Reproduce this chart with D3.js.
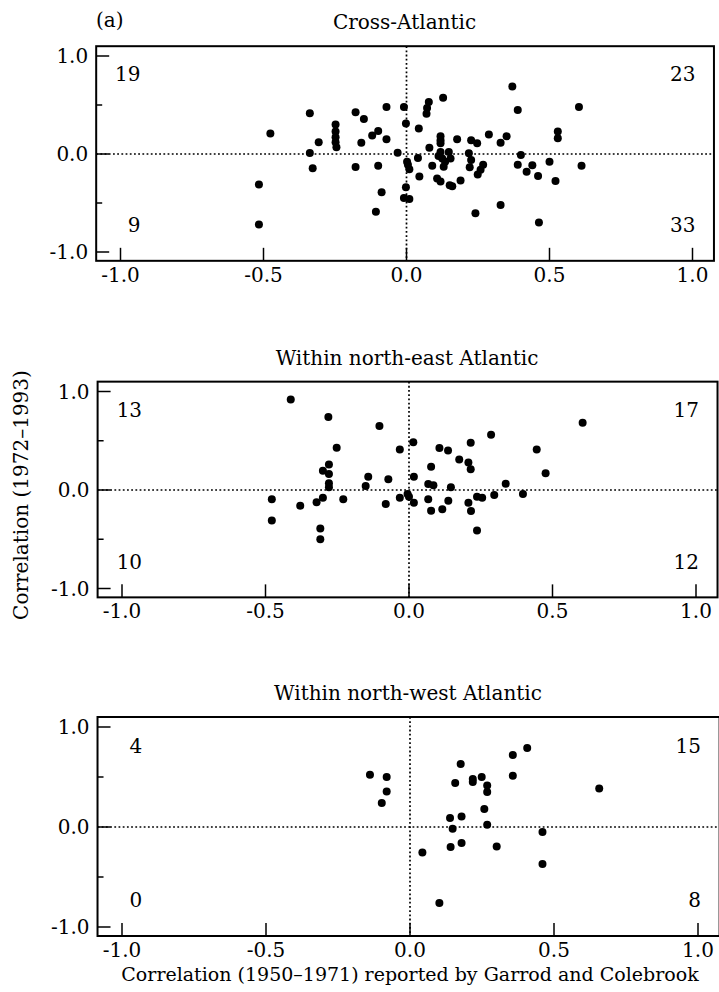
<!DOCTYPE html>
<html>
<head>
<meta charset="utf-8">
<script src="https://cdn.jsdelivr.net/npm/d3@7"></script>
<style>
  body { margin: 0; background: #fff; }
  svg { display: block; font-family: "DejaVu Serif", serif; }
</style>
</head>
<body>
<svg id="chart"></svg>
<script>
const panelTitles = ["Cross-Atlantic", "Within north-east Atlantic", "Within north-west Atlantic"];

// quadrant counts: [top-left, top-right, bottom-left, bottom-right]
const quadrantCounts = [
    [19, 23, 9, 33],
    [13, 17, 10, 12],
    [4, 15, 0, 8]
];

const xTicks = [-1, -0.5, 0, 0.5, 1];
const xTickLabels = ["-1.0", "-0.5", "0.0", "0.5", "1.0"];
const yTicks = [-1, 0, 1];
const yTickLabels = ["-1.0", "0.0", "1.0"];
const yMinorTicks = [-0.5, 0.5];

// [1950-1971 correlation, 1972-1993 correlation]
const crossAtlantic = [
    [-0.476, 0.21], [-0.516, -0.31], [-0.516, -0.72], [-0.338, 0.415], [-0.307, 0.12], [-0.338, 0.01],
    [-0.328, -0.146], [-0.248, 0.30], [-0.248, 0.23], [-0.248, 0.17], [-0.248, 0.12], [-0.245, 0.07],
    [-0.178, 0.425], [-0.149, 0.357], [-0.158, 0.115], [-0.178, -0.133], [-0.12, 0.19], [-0.099, 0.235],
    [-0.07, 0.48], [-0.07, 0.15], [-0.099, -0.12], [-0.087, -0.39], [-0.107, -0.59], [-0.031, 0.013],
    [-0.009, 0.48], [-0.002, 0.31], [0.002, -0.08], [0.01, -0.156], [-0.002, -0.34], [-0.009, -0.45],
    [0.01, -0.46], [0.043, 0.26], [0.04, -0.04], [0.045, -0.23], [0.078, 0.53], [0.072, 0.47],
    [0.07, 0.41], [0.128, 0.575], [0.119, 0.18], [0.119, 0.14], [0.119, 0.11], [0.08, 0.065],
    [0.09, -0.12], [0.119, 0.02], [0.125, -0.045], [0.13, -0.13], [0.148, 0.02], [0.154, -0.045],
    [0.107, -0.25], [0.119, -0.28], [0.151, -0.32], [0.16, -0.33], [0.189, -0.27], [0.177, 0.15],
    [0.226, 0.14], [0.247, 0.11], [0.218, 0.007], [0.226, -0.06], [0.221, -0.136], [0.268, -0.11],
    [0.259, -0.16], [0.249, -0.21], [0.288, 0.2], [0.329, 0.115], [0.35, 0.18], [0.37, 0.69],
    [0.389, 0.45], [0.40, -0.01], [0.389, -0.11], [0.42, -0.18], [0.44, -0.115], [0.46, -0.225],
    [0.5, -0.08], [0.529, 0.23], [0.529, 0.16], [0.521, -0.275], [0.603, 0.48], [0.612, -0.12],
    [0.241, -0.605], [0.329, -0.52], [0.463, -0.70], [0.135, -0.08], [0.112, -0.02], [0.005, -0.11]
];

const northEast = [
    [-0.412, 0.92], [-0.281, 0.74], [-0.103, 0.65], [-0.252, 0.43], [-0.032, 0.41], [0.015, 0.485],
    [-0.279, 0.26], [-0.30, 0.196], [-0.279, 0.163], [-0.279, 0.068], [-0.279, 0.027], [-0.142, 0.135],
    [-0.151, 0.04], [-0.072, 0.108], [-0.478, -0.095], [-0.478, -0.31], [-0.379, -0.16], [-0.322, -0.125],
    [-0.30, -0.078], [-0.229, -0.095], [-0.309, -0.39], [-0.309, -0.50], [-0.081, -0.142], [-0.032, -0.078],
    [-0.005, -0.04], [0.0, -0.068], [0.017, 0.135], [0.017, -0.129], [0.067, -0.095], [0.077, -0.21],
    [0.077, 0.237], [0.106, 0.427], [0.136, 0.40], [0.067, 0.061], [0.085, 0.048], [0.146, 0.027],
    [0.116, -0.196], [0.137, -0.109], [0.175, 0.31], [0.207, 0.28], [0.215, 0.21], [0.215, 0.48],
    [0.286, 0.56], [0.207, -0.129], [0.216, -0.213], [0.237, -0.068], [0.255, -0.078], [0.237, -0.41],
    [0.297, -0.051], [0.337, 0.064], [0.397, -0.04], [0.445, 0.41], [0.476, 0.17], [0.605, 0.683]
];

const northWest = [
    [-0.139, 0.523], [-0.081, 0.50], [-0.081, 0.356], [-0.098, 0.24], [0.176, 0.63], [0.357, 0.72],
    [0.407, 0.79], [0.249, 0.50], [0.218, 0.48], [0.218, 0.45], [0.157, 0.44], [0.268, 0.416],
    [0.268, 0.35], [0.357, 0.513], [0.258, 0.18], [0.657, 0.386], [0.139, 0.09], [0.179, 0.106],
    [0.148, -0.017], [0.268, 0.023], [0.46, -0.05], [0.043, -0.254], [0.141, -0.2], [0.179, -0.16],
    [0.301, -0.194], [0.46, -0.37], [0.102, -0.76]
];

const panelData = [crossAtlantic, northEast, northWest];

const width = 719, height = 992;
const fontSize = 20;

// pixel positions of -1 and +1 on each panel's axes
const panels = [
    { xr: [120.5, 692.5], yr: [252, 56] },
    { xr: [122, 696], yr: [588.5, 391.5] },
    { xr: [122, 698], yr: [927, 727] }
];

const frameX = [-1.085, 1.075];
const frameY = [-1.09, 1.1];

const svg = d3.select("#chart")
    .attr("width", width)
    .attr("height", height)
    .attr("viewBox", `0 0 ${width} ${height}`);

svg.append("rect").attr("width", width).attr("height", height).attr("fill", "#fff");

panels.forEach((p, i) => {
    const x = d3.scaleLinear().domain([-1, 1]).range(p.xr);
    const y = d3.scaleLinear().domain([-1, 1]).range(p.yr);
    const g = svg.append("g");

    const left = x(frameX[0]), right = x(frameX[1]);
    const top = y(frameY[1]), bottom = y(frameY[0]);

    // dotted zero lines
    g.append("line")
        .attr("x1", left).attr("x2", right)
        .attr("y1", y(0)).attr("y2", y(0))
        .attr("stroke", "#000").attr("stroke-width", 1.7)
        .attr("stroke-dasharray", "1.8,2.4");
    g.append("line")
        .attr("x1", x(0)).attr("x2", x(0))
        .attr("y1", top).attr("y2", bottom)
        .attr("stroke", "#000").attr("stroke-width", 1.7)
        .attr("stroke-dasharray", "1.8,2.4");

    g.append("rect")
        .attr("x", left).attr("y", top)
        .attr("width", right - left).attr("height", bottom - top)
        .attr("fill", "none").attr("stroke", "#000").attr("stroke-width", 2);

    // inward ticks
    g.selectAll(".xtick").data(xTicks).enter().append("line")
        .attr("x1", d => x(d)).attr("x2", d => x(d))
        .attr("y1", bottom).attr("y2", bottom - 13)
        .attr("stroke", "#000").attr("stroke-width", 1.5);
    g.selectAll(".ytick").data(yTicks).enter().append("line")
        .attr("x1", left).attr("x2", left + 13)
        .attr("y1", d => y(d)).attr("y2", d => y(d))
        .attr("stroke", "#000").attr("stroke-width", 1.5);
    g.selectAll(".yminor").data(yMinorTicks).enter().append("line")
        .attr("x1", left).attr("x2", left + 6)
        .attr("y1", d => y(d)).attr("y2", d => y(d))
        .attr("stroke", "#000").attr("stroke-width", 1.5);

    g.selectAll(".xlab").data(xTicks).enter().append("text")
        .attr("x", d => x(d)).attr("y", bottom + 21)
        .attr("text-anchor", "middle").attr("font-size", fontSize)
        .text((d, j) => xTickLabels[j]);
    g.selectAll(".ylab").data(yTicks).enter().append("text")
        .attr("x", left - 8).attr("y", d => y(d)).attr("dy", "0.36em")
        .attr("text-anchor", "end").attr("font-size", fontSize)
        .text((d, j) => yTickLabels[j]);

    g.append("text")
        .attr("x", x(0) - 2).attr("y", top - 17)
        .attr("text-anchor", "middle").attr("font-size", fontSize)
        .text(panelTitles[i]);

    // quadrant counts
    const c = quadrantCounts[i];
    const counts = [
        { v: c[0], px: x(-0.93), py: y(0.74) },
        { v: c[1], px: x(1.01), py: y(0.74) },
        { v: c[2], px: x(-0.93), py: y(-0.8) },
        { v: c[3], px: x(1.01), py: y(-0.8) }
    ];
    g.selectAll(".count").data(counts).enter().append("text")
        .attr("x", d => d.px).attr("y", d => d.py)
        .attr("text-anchor", "end").attr("font-size", fontSize)
        .text(d => d.v);

    g.selectAll("circle").data(panelData[i]).enter().append("circle")
        .attr("cx", d => x(d[0])).attr("cy", d => y(d[1]))
        .attr("r", 4).attr("fill", "#000");
});

svg.append("text")
    .attr("x", 96).attr("y", 27)
    .attr("font-size", fontSize)
    .text("(a)");

svg.append("text")
    .attr("transform", "translate(28,495) rotate(-90)")
    .attr("text-anchor", "middle").attr("font-size", fontSize)
    .text("Correlation (1972\u20131993)");

svg.append("text")
    .attr("x", 410).attr("y", 981)
    .attr("text-anchor", "middle").attr("font-size", 19)
    .text("Correlation (1950\u20131971) reported by Garrod and Colebrook");
</script>
</body>
</html>
